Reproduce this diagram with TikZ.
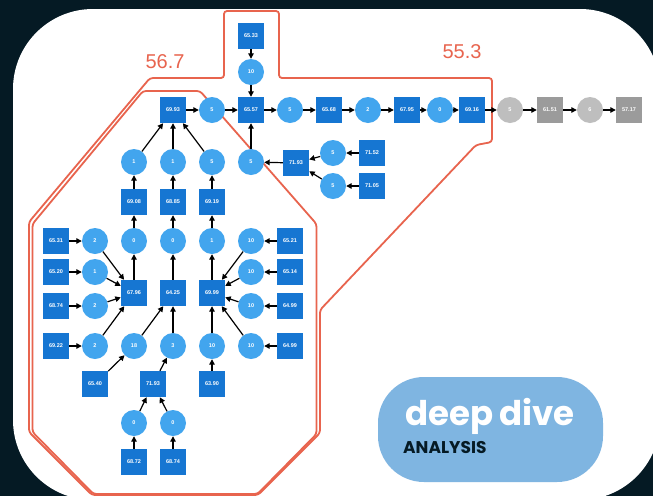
\documentclass[tikz,border=0pt]{standalone}
\usepackage{fontspec}
\setmainfont{Liberation Sans}
\newfontfamily\pop{Poppins}
\usetikzlibrary{arrows.meta}
\definecolor{bg}{RGB}{5,26,36}
\definecolor{sq}{RGB}{22,118,210}
\definecolor{ci}{RGB}{66,165,238}
\definecolor{gc}{RGB}{190,190,190}
\definecolor{gs}{RGB}{155,155,155}
\definecolor{rd}{RGB}{232,100,78}
\definecolor{pill}{RGB}{127,181,225}
\begin{document}
\begin{tikzpicture}[x=1pt,y=-1pt,
  sqn/.style={rectangle, fill=sq, minimum size=26pt, inner sep=0pt, text=white, font=\fontsize{5.5}{6}\selectfont\bfseries},
  cin/.style={circle, fill=ci, minimum size=26pt, inner sep=0pt, text=white, font=\fontsize{5.5}{6}\selectfont\bfseries},
  gcn/.style={cin, fill=gc},
  gsn/.style={sqn, fill=gs},
  arr/.style={-{Triangle[length=5.5pt,width=5.5pt]}, line width=1.2pt, black},
  grp/.style={draw=rd, line width=1.8pt, rounded corners=3pt},
  grplabel/.style={text=rd, font=\fontsize{20}{20}\selectfont, inner sep=0pt}
]
\useasboundingbox (0,0) rectangle (653,496);
\fill[bg] (0,0) rectangle (653,496);
\fill[white, rounded corners=80pt] (13,9) rectangle (660,500);

% group outlines
\draw[grp] (224,11) -- (279,11) -- (279,78) -- (492,78) -- (492,142) -- (476,145) -- (320,310) -- (320,433) -- (258,495) -- (92,495) -- (29,432) -- (29,222) -- (150,78) -- (224,78) -- cycle;
\draw[grp] (143,91) -- (200,91) -- (316.5,224) -- (316.5,434) -- (257.5,494) -- (93.5,494) -- (32.5,432) -- (32.5,224) -- cycle;
\node[grplabel] (l1) at (165,62) {56.7};
\node[grplabel] (l2) at (462,52) {55.3};

% main chain
\node[sqn] (n6533) at (251,36) {65.33};
\node[cin] (c10a) at (251,72) {10};
\node[sqn] (n6993) at (173,110) {69.93};
\node[cin] (c5a) at (212,110) {5};
\node[sqn] (n6557) at (251,110) {65.57};
\node[cin] (c5b) at (290,110) {5};
\node[sqn] (n6568) at (329,110) {65.68};
\node[cin] (c2a) at (368,110) {2};
\node[sqn] (n6795) at (407,110) {67.95};
\node[cin] (c0a) at (440,110) {0};
\node[sqn] (n6916) at (472,110) {69.16};
\node[gcn] (g5) at (510,110) {5};
\node[gsn] (n6151) at (550,110) {61.51};
\node[gcn] (g6) at (590,110) {6};
\node[gsn] (n5717) at (629,110) {57.17};

% row 162
\node[cin] (c1a) at (134,162) {1};
\node[cin] (c1b) at (173,162) {1};
\node[cin] (c5c) at (212,162) {5};
\node[cin] (c5d) at (251,162) {5};
\node[sqn] (n7193a) at (296,163) {71.93};
\node[cin] (c5e) at (333,153) {5};
\node[sqn] (n7152) at (372,153) {71.52};
\node[cin] (c5f) at (333,186) {5};
\node[sqn] (n7105) at (372,186) {71.05};

% row 202
\node[sqn] (n6908) at (134,202) {69.08};
\node[sqn] (n6885) at (173,202) {68.85};
\node[sqn] (n6919) at (212,202) {69.19};

% row 241
\node[sqn] (n6531) at (56,241) {65.31};
\node[cin] (c2b) at (95,241) {2};
\node[cin] (c0b) at (134,241) {0};
\node[cin] (c0c) at (173,241) {0};
\node[cin] (c1c) at (212,241) {1};
\node[cin] (c10b) at (251,241) {10};
\node[sqn] (n6521) at (290,241) {65.21};

% row 272
\node[sqn] (n6520) at (56,272) {65.20};
\node[cin] (c1d) at (95,272) {1};
\node[cin] (c10c) at (251,272) {10};
\node[sqn] (n6514) at (290,272) {65.14};

% row 293
\node[sqn] (n6796) at (134,293) {67.96};
\node[sqn] (n6425) at (173,293) {64.25};
\node[sqn] (n6999) at (212,293) {69.99};

% row 306
\node[sqn] (n6874a) at (56,306) {68.74};
\node[cin] (c2c) at (95,306) {2};
\node[cin] (c10d) at (251,306) {10};
\node[sqn] (n6499a) at (290,306) {64.99};

% row 346
\node[sqn] (n6922) at (56,346) {69.22};
\node[cin] (c2d) at (95,346) {2};
\node[cin] (c18) at (134,346) {18};
\node[cin] (c3) at (173,346) {3};
\node[cin] (c10e) at (212,346) {10};
\node[cin] (c10f) at (251,346) {10};
\node[sqn] (n6499b) at (290,346) {64.99};

% row 384
\node[sqn] (n6540) at (95,384) {65.40};
\node[sqn] (n7193b) at (153,384) {71.93};
\node[sqn] (n6390) at (212,384) {63.90};

% rows 423 / 462
\node[cin] (c0d) at (134,423) {0};
\node[cin] (c0e) at (173,423) {0};
\node[sqn] (n6872) at (134,462) {68.72};
\node[sqn] (n6874b) at (173,462) {68.74};

% edges
\draw[arr] (n6533) -- (c10a);
\draw[arr] (c10a) -- (n6557);
\draw[arr] (n6993) -- (c5a);
\draw[arr] (c5a) -- (n6557);
\draw[arr] (n6557) -- (c5b);
\draw[arr] (c5b) -- (n6568);
\draw[arr] (n6568) -- (c2a);
\draw[arr] (c2a) -- (n6795);
\draw[arr] (n6795) -- (c0a);
\draw[arr] (c0a) -- (n6916);
\draw[arr] (n6916) -- (g5);
\draw[arr] (g5) -- (n6151);
\draw[arr] (n6151) -- (g6);
\draw[arr] (g6) -- (n5717);
\draw[arr] (c5d) -- (n6557);
\draw[arr] (n7193a) -- (c5d);
\draw[arr] (c5e) -- (n7193a);
\draw[arr] (c5f) -- (n7193a);
\draw[arr] (n7152) -- (c5e);
\draw[arr] (n7105) -- (c5f);
\draw[arr] (c1a) -- (n6993);
\draw[arr] (c1b) -- (n6993);
\draw[arr] (c5c) -- (n6993);
\draw[arr] (n6908) -- (c1a);
\draw[arr] (n6885) -- (c1b);
\draw[arr] (n6919) -- (c5c);
\draw[arr] (c0b) -- (n6908);
\draw[arr] (c0c) -- (n6885);
\draw[arr] (c1c) -- (n6919);
\draw[arr] (n6796) -- (c0b);
\draw[arr] (n6425) -- (c0c);
\draw[arr] (n6999) -- (c1c);
\draw[arr] (n6531) -- (c2b);
\draw[arr] (c2b) -- (n6796);
\draw[arr] (n6520) -- (c1d);
\draw[arr] (c1d) -- (n6796);
\draw[arr] (n6874a) -- (c2c);
\draw[arr] (c2c) -- (n6796);
\draw[arr] (n6922) -- (c2d);
\draw[arr] (c2d) -- (n6796);
\draw[arr] (n6540) -- (c18);
\draw[arr] (c18) -- (n6425);
\draw[arr] (n7193b) -- (c3);
\draw[arr] (c3) -- (n6425);
\draw[arr] (c0d) -- (n7193b);
\draw[arr] (c0e) -- (n7193b);
\draw[arr] (n6872) -- (c0d);
\draw[arr] (n6874b) -- (c0e);
\draw[arr] (n6390) -- (c10e);
\draw[arr] (c10e) -- (n6999);
\draw[arr] (n6521) -- (c10b);
\draw[arr] (c10b) -- (n6999);
\draw[arr] (n6514) -- (c10c);
\draw[arr] (c10c) -- (n6999);
\draw[arr] (n6499a) -- (c10d);
\draw[arr] (c10d) -- (n6999);
\draw[arr] (n6499b) -- (c10f);
\draw[arr] (c10f) -- (n6999);

% badge
\fill[pill, rounded corners=46pt] (378,377) rectangle (603,482);
\node[anchor=base west, inner sep=0pt, text=white, font=\pop\bfseries\fontsize{34}{34}\selectfont] (dd) at (405,425) {deep\hspace{-1pt} dive};
\node[anchor=base west, inner sep=0pt, text=bg, font=\pop\bfseries\fontsize{17}{17}\selectfont] (an) at (403,453) {ANALYSIS};
\end{tikzpicture}
\end{document}
